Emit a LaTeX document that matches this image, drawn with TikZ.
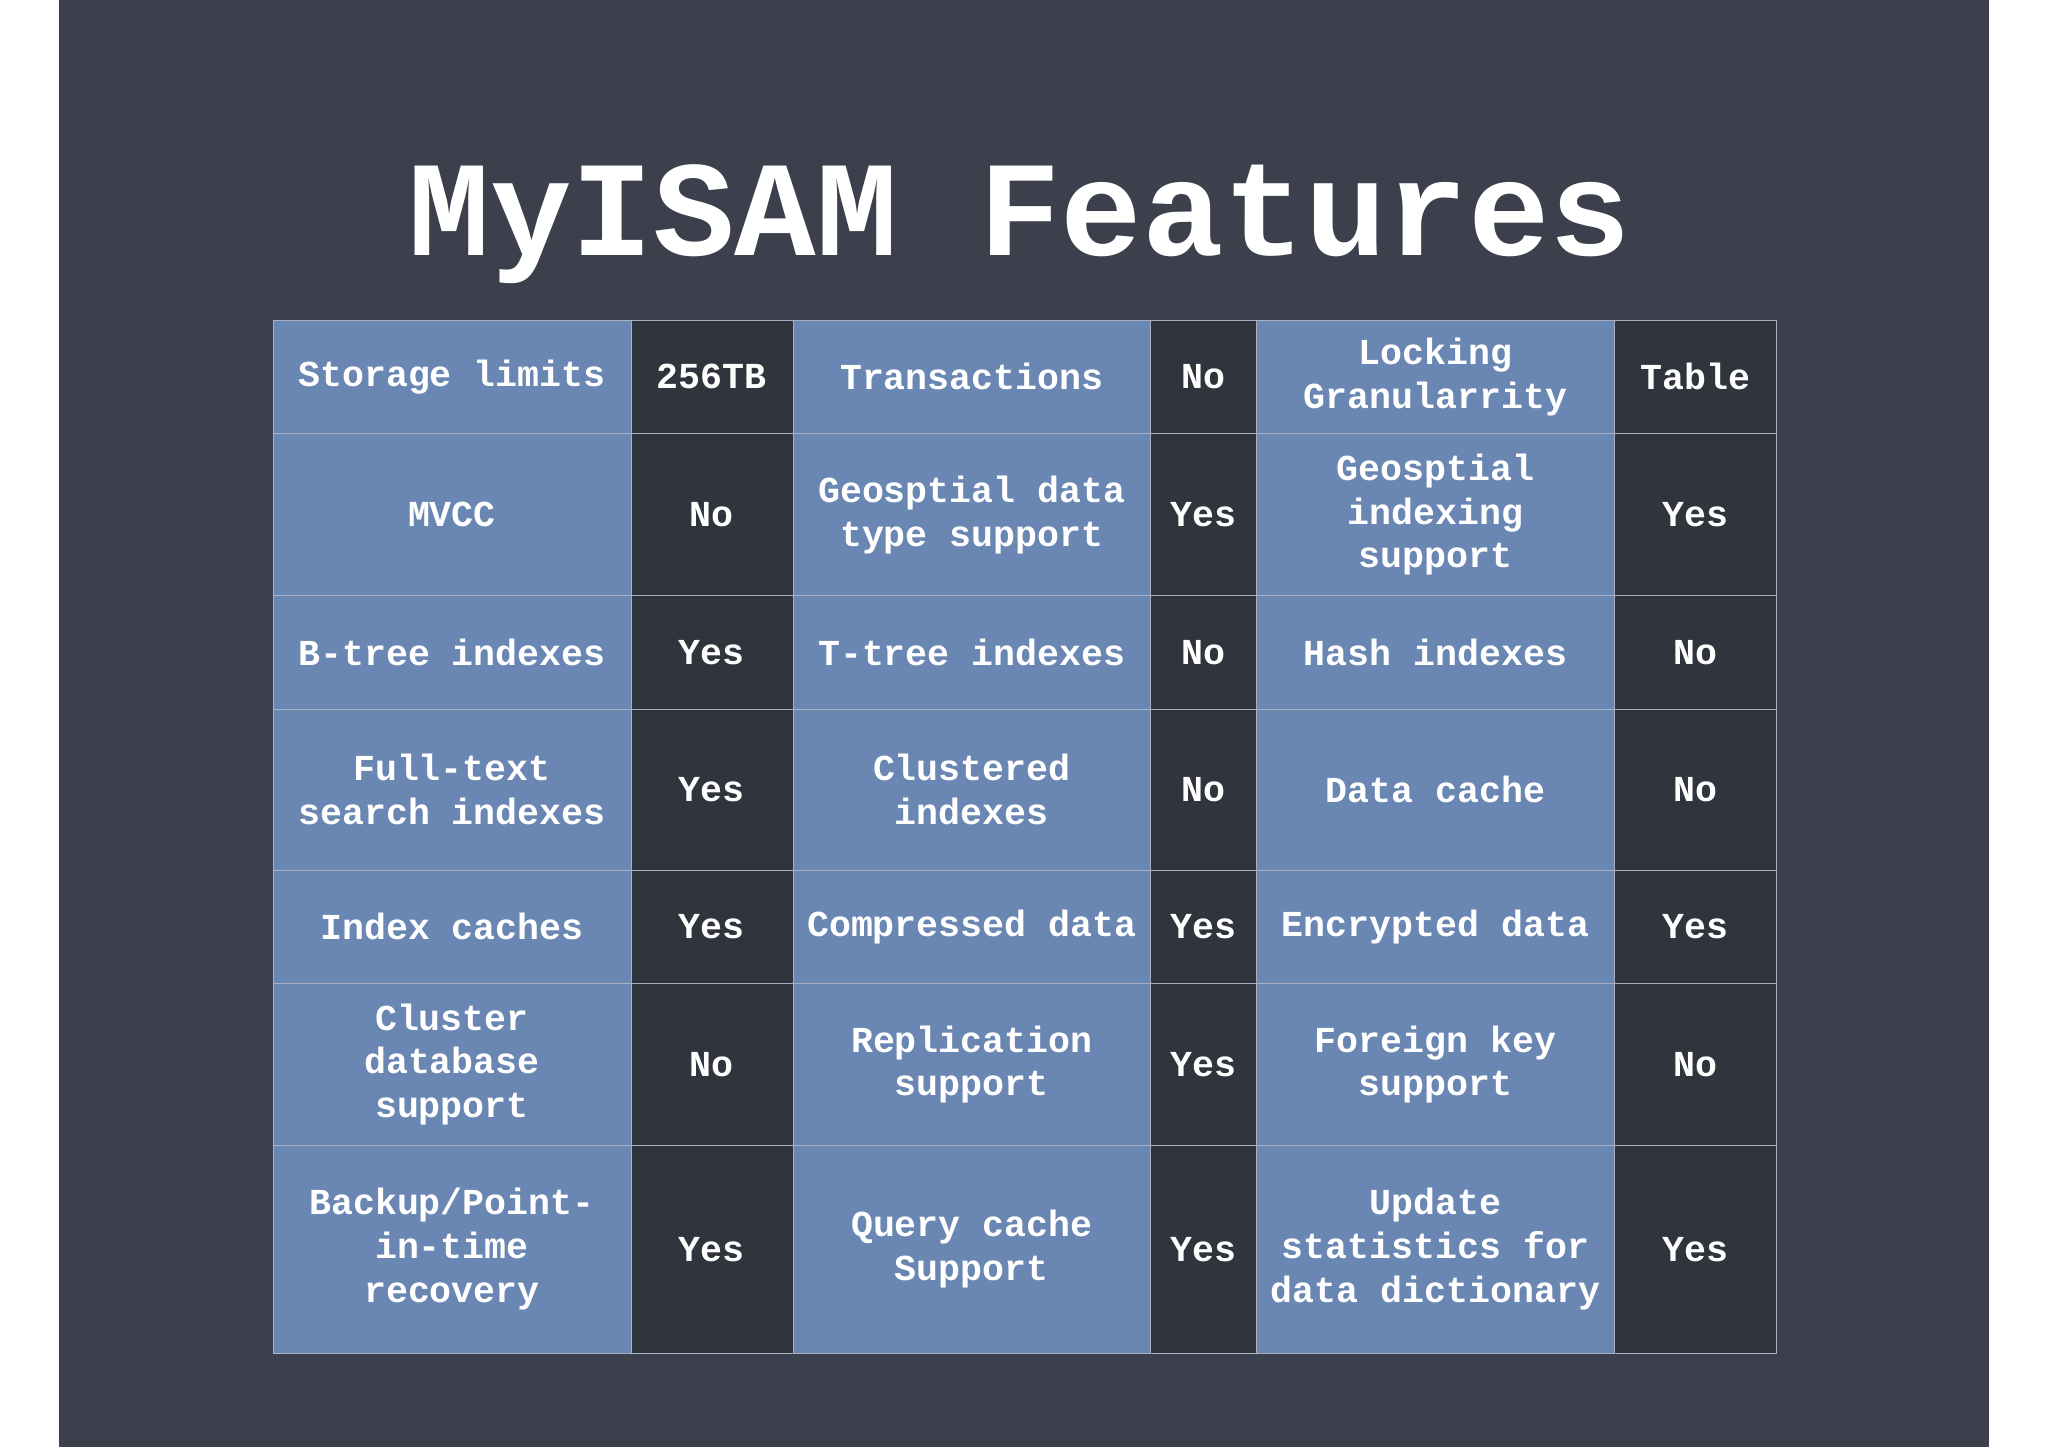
\documentclass[tikz,border=0pt]{standalone}
\usepackage{fontspec}
\setmainfont{Liberation Mono}
\definecolor{board}{HTML}{3B404C}
\definecolor{keyblue}{HTML}{6A86B2}
\definecolor{valdark}{HTML}{30343D}
\definecolor{gridline}{HTML}{A8B0BC}
\tikzset{
  keycell/.style={rectangle, draw=gridline, fill=keyblue, text=white, align=center,
    minimum width=274pt, inner sep=0pt, font=\bfseries\fontsize{28}{33.6}\selectfont},
  valcell/.style={keycell, fill=valdark},
}
\begin{document}
\begin{tikzpicture}[x=1pt,y=1pt]
  % Background
  \useasboundingbox (0,0) rectangle (1568,-1108);
  \fill[board] (45,0) rectangle (1523,-1108);
  % Header
  \node (title) [text=white, font=\bfseries\fontsize{104}{110}\selectfont] at (781,-172) {MyISAM Features};
  % Cells
  \foreach \r/\y/\h/\a/\b/\c/\d/\e/\f in {
    1/288.5/87/{Storage limits}/{256TB}/{Transactions}/{No}/{Locking\\Granularrity}/{Table},
    2/394/124/{MVCC}/{No}/{Geosptial data\\type support}/{Yes}/{Geosptial\\indexing\\support}/{Yes},
    3/499.5/87/{B-tree indexes}/{Yes}/{T-tree indexes}/{No}/{Hash indexes}/{No},
    4/604.5/123/{Full-text\\search indexes}/{Yes}/{Clustered\\indexes}/{No}/{Data cache}/{No},
    5/709.5/87/{Index caches}/{Yes}/{Compressed data}/{Yes}/{Encrypted data}/{Yes},
    6/815/124/{Cluster\\database\\support}/{No}/{Replication\\support}/{Yes}/{Foreign key\\support}/{No},
    7/956.5/159/{Backup/Point-\\in-time\\recovery}/{Yes}/{Query cache\\Support}/{Yes}/{Update\\statistics for\\data dictionary}/{Yes}}
  {
    \node (c-\r-1) [keycell, minimum height=\h pt] at (346,-\y) {\a};
    \node (c-\r-2) [valcell, minimum height=\h pt, minimum width=124pt] at (545,-\y) {\b};
    \node (c-\r-3) [keycell, minimum height=\h pt] at (744,-\y) {\c};
    \node (c-\r-4) [valcell, minimum height=\h pt, minimum width=81pt] at (921.5,-\y) {\d};
    \node (c-\r-5) [keycell, minimum height=\h pt] at (1099,-\y) {\e};
    \node (c-\r-6) [valcell, minimum height=\h pt, minimum width=124pt] at (1298,-\y) {\f};
  }
\end{tikzpicture}
\end{document}
